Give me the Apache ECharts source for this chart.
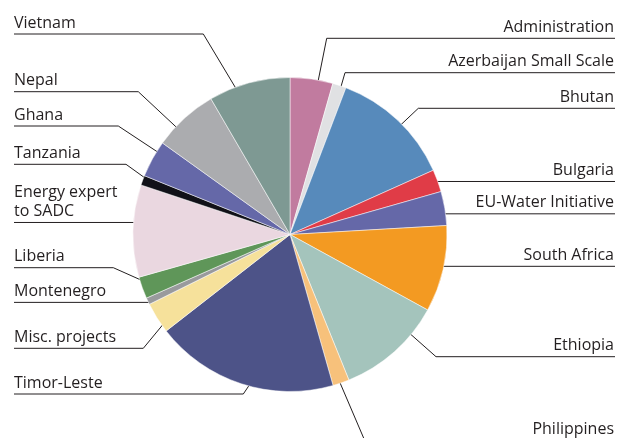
<!DOCTYPE html>
<html>
<head>
<meta charset="utf-8">
<script src="https://cdn.jsdelivr.net/npm/echarts@6/dist/echarts.min.js"></script>
<style>
  html, body { margin: 0; padding: 0; background: #fff; }
  #chart { width: 617px; height: 438px; }
</style>
</head>
<body>
<div id="chart"></div>
<script>
// Project budget shares (%), clockwise from 12 o'clock
const categories = [
  'Administration', 'Azerbaijan Small Scale', 'Bhutan', 'Bulgaria',
  'EU-Water Initiative', 'South Africa', 'Ethiopia', 'Philippines',
  'Timor-Leste', 'Misc. projects', 'Montenegro', 'Liberia',
  'Energy expert\nto SADC', 'Tanzania', 'Ghana', 'Nepal', 'Vietnam'
];
const shares = [
  4.4, 1.4, 12.5, 2.3,
  3.5, 8.9, 10.9, 1.7,
  18.9, 3.2, 0.7, 2.25,
  9.5, 1.0, 3.8, 6.7, 8.4
];

// Slice colours
const sliceColors = [
  '#c17b9f', '#e0e1e3', '#578abb', '#e03c47',
  '#6568a8', '#f39a22', '#a4c4bc', '#f7c17b',
  '#4d5388', '#f6e19b', '#999a9d', '#5f9659',
  '#ead7e0', '#111118', '#6568a8', '#abacaf', '#7e9993'
];

// Leader-line layout per slice: side, position of the anchor inside the slice
// (angular fraction, radius fraction), elbow point (null = straight horizontal run)
const leaderLayout = [
  { side: 'R', f: 0.65, r: 0.90, elbow: [326.7, 38.3] },
  { side: 'R', f: 0.69, r: 0.91, elbow: [345, 72.7] },
  { side: 'R', f: 0.54, r: 0.90, elbow: [418.3, 108.3] },
  { side: 'R', f: 0.43, r: 0.96, elbow: null },
  { side: 'R', f: 0.60, r: 0.91, elbow: null },
  { side: 'R', f: 0.50, r: 0.92, elbow: null },
  { side: 'R', f: 0.27, r: 0.88, elbow: [436, 356.7] },
  { side: 'R', f: 0.60, r: 0.94, elbow: [364.5, 440] },
  { side: 'L', f: 0.44, r: 0.94, elbow: [243.3, 394] },
  { side: 'L', f: 0.30, r: 0.94, elbow: [143.3, 348.3] },
  { side: 'L', f: 0.20, r: 0.99, elbow: null },
  { side: 'L', f: 0.50, r: 0.94, elbow: [113.3, 267.7] },
  { side: 'L', f: 0.60, r: 0.93, elbow: null },
  { side: 'L', f: 0.58, r: 0.94, elbow: [126, 164.3] },
  { side: 'L', f: 0.72, r: 0.94, elbow: [118.3, 126] },
  { side: 'L', f: 0.32, r: 0.92, elbow: [138.3, 91.7] },
  { side: 'L', f: 0.36, r: 0.91, elbow: [203.3, 34] }
];

const CX = 290, CY = 234.5, R = 157;
const RIGHT_X = 615, LEFT_X = 14;

const total = shares.reduce((a, b) => a + b, 0);
const startAngles = [];
shares.reduce((acc, v) => { startAngles.push(acc); return acc + v; }, 0);

function anchorPoint(i) {
  const cfg = leaderLayout[i];
  const a0 = startAngles[i] / total * Math.PI * 2;
  const span = shares[i] / total * Math.PI * 2;
  const a = a0 + span * cfg.f;
  const rr = R * cfg.r;
  return [CX + rr * Math.sin(a), CY - rr * Math.cos(a)];
}

const chart = echarts.init(document.getElementById('chart'), null, { renderer: 'canvas' });

chart.setOption({
  animation: false,
  backgroundColor: '#ffffff',
  series: [{
    type: 'pie',
    center: [CX, CY],
    radius: [0, R],
    startAngle: 90,
    clockwise: true,
    silent: true,
    avoidLabelOverlap: false,
    data: categories.map((name, i) => ({
      name: name,
      value: shares[i],
      itemStyle: { color: sliceColors[i] }
    })),
    itemStyle: { borderColor: '#ffffff', borderWidth: 0.5 },
    label: {
      show: true,
      position: 'outside',
      formatter: '{b}',
      color: '#231f20',
      fontFamily: 'Open Sans',
      fontSize: 16,
      lineHeight: 19
    },
    labelLine: {
      show: true,
      length: 10,
      length2: 10,
      lineStyle: { color: '#231f20', width: 1 }
    },
    labelLayout: function (params) {
      const i = params.dataIndex;
      const cfg = leaderLayout[i];
      const p0 = anchorPoint(i);
      const elbow = cfg.elbow ? cfg.elbow : p0;
      const lineY = elbow[1];
      const endX = cfg.side === 'R' ? RIGHT_X : LEFT_X;
      return {
        x: cfg.side === 'R' ? 614 : LEFT_X,
        y: lineY - 1.5,
        align: cfg.side === 'R' ? 'right' : 'left',
        verticalAlign: 'bottom',
        labelLinePoints: [p0, elbow, [endX, lineY]]
      };
    }
  }]
});
</script>
</body>
</html>
